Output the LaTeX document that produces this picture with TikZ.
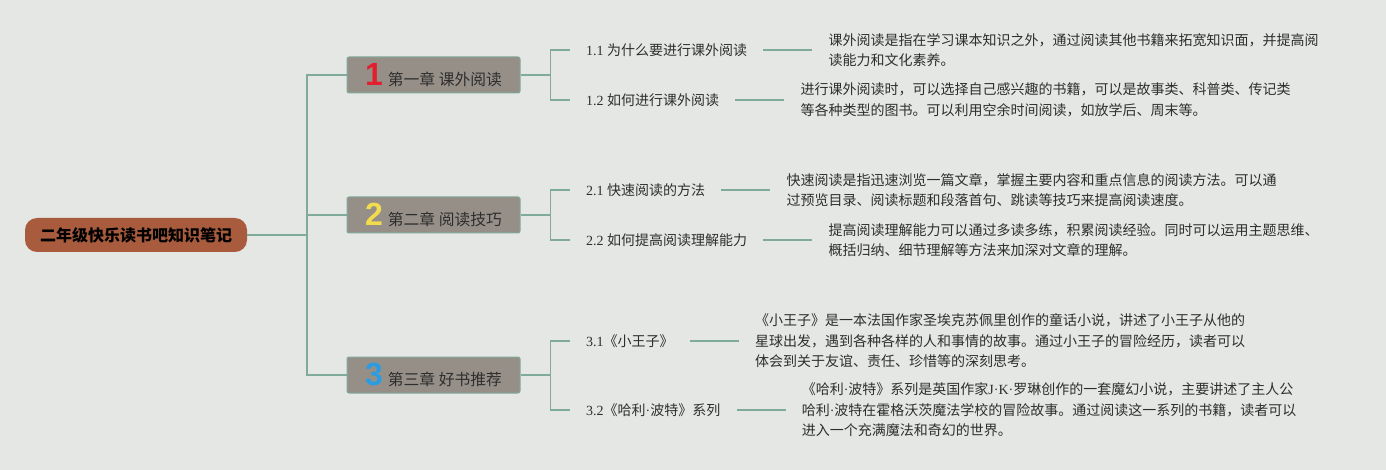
\documentclass[tikz,border=0pt]{standalone}
\usepackage{fontspec}
\setmainfont{Liberation Serif}
\newfontfamily\cjk{Noto Sans CJK SC}
\newfontfamily\numfont{Liberation Sans}
\usetikzlibrary{positioning}

\definecolor{bgcol}{HTML}{E4E7E4}
\definecolor{linkcol}{HTML}{80AB9B}
\definecolor{rootcol}{HTML}{A85B3D}
\definecolor{chapcol}{HTML}{958F87}
\definecolor{textcol}{HTML}{2E2E2E}
\definecolor{numred}{HTML}{E21F2F}
\definecolor{numyellow}{HTML}{F2DC4E}
\definecolor{numblue}{HTML}{2A9DE2}

\tikzset{
  link/.style={draw=linkcol, line width=1.5pt},
  rootbox/.style={fill=rootcol, rounded corners=12pt, minimum width=222pt,
    minimum height=34pt, inner sep=0pt, font=\cjk\bfseries\fontsize{16}{18}\selectfont},
  chapbox/.style={fill=chapcol, draw=linkcol, line width=1pt, rounded corners=2pt,
    minimum width=173pt, minimum height=36pt, inner sep=0pt, text=textcol,
    font=\cjk\fontsize{15.8}{18}\selectfont},
  sublabel/.style={anchor=west, inner xsep=16pt, inner ysep=2pt, text=textcol,
    font=\fontsize{14}{17}\selectfont},
  detail/.style={align=left, inner xsep=16pt, inner ysep=2pt, text=textcol,
    font=\cjk\fontsize{14}{20.5}\selectfont},
}
\newcommand{\chapnum}[2]{{\numfont\bfseries\fontsize{32}{32}\selectfont\textcolor{#1}{#2}}\hspace{5pt}}
% narrow middle dot
\newcommand{\mdot}{{\rmfamily ·}}

\begin{document}
\begin{tikzpicture}[x=1pt,y=-1pt]
% canvas
\fill[bgcol] (0,0) rectangle (1386,470);
\useasboundingbox (0,0) rectangle (1386,470);
% root
\node[rootbox] (root) at (136,235) {二年级快乐读书吧知识笔记};
% chapters
\node[chapbox] (ch1) at (433.5,75) {\chapnum{numred}{1}第一章 课外阅读};
\node[chapbox] (ch2) at (433.5,215) {\chapnum{numyellow}{2}第二章 阅读技巧};
\node[chapbox] (ch3) at (433.5,375) {\chapnum{numblue}{3}第三章 好书推荐};
% sub topics and notes
\node[sublabel] (s11) at (570,50) {1.1 \cjk 为什么要进行课外阅读};
\node[detail, right=49pt of s11] (d11) {课外阅读是指在学习课本知识之外，通过阅读其他书籍来拓宽知识面，并提高阅\\读能力和文化素养。};
\node[sublabel] (s12) at (570,100) {1.2 \cjk 如何进行课外阅读};
\node[detail, right=49pt of s12] (d12) {进行课外阅读时，可以选择自己感兴趣的书籍，可以是故事类、科普类、传记类\\等各种类型的图书。可以利用空余时间阅读，如放学后、周末等。};
\node[sublabel] (s21) at (570,190) {2.1 \cjk 快速阅读的方法};
\node[detail, right=49pt of s21] (d21) {快速阅读是指迅速浏览一篇文章，掌握主要内容和重点信息的阅读方法。可以通\\过预览目录、阅读标题和段落首句、跳读等技巧来提高阅读速度。};
\node[sublabel] (s22) at (570,240) {2.2 \cjk 如何提高阅读理解能力};
\node[detail, right=49pt of s22] (d22) {提高阅读理解能力可以通过多读多练，积累阅读经验。同时可以运用主题思维、\\概括归纳、细节理解等方法来加深对文章的理解。};
\node[sublabel] (s31) at (570,341) {3.1{\cjk 《小王子》}};
\node[detail, right=49pt of s31] (d31) {《小王子》是一本法国作家圣埃克苏佩里创作的童话小说，讲述了小王子从他的\\星球出发，遇到各种各样的人和事情的故事。通过小王子的冒险经历，读者可以\\体会到关于友谊、责任、珍惜等的深刻思考。};
\node[sublabel] (s32) at (570,410) {3.2{\cjk 《哈利\mdot 波特》系列}};
\node[detail, right=49pt of s32] (d32) {《哈利\mdot 波特》系列是英国作家{\rmfamily J·K·}罗琳创作的一套魔幻小说，主要讲述了主人公\\哈利\mdot 波特在霍格沃茨魔法学校的冒险故事。通过阅读这一系列的书籍，读者可以\\进入一个充满魔法和奇幻的世界。};
% connectors
\foreach \c in {ch1,ch2,ch3}
  \draw[link] (root.east) -- ++(60,0) |- (\c.west);
\foreach \c/\a/\b in {ch1/s11/s12, ch2/s21/s22, ch3/s31/s32} {
  \draw[link] (\c.east) -- ++(30,0) |- (\a.west);
  \draw[link] (\c.east) ++(30,0) |- (\b.west);
}
\foreach \s in {11,12,21,22,31,32}
  \draw[link] (s\s.east) -- (d\s.west);
\end{tikzpicture}
\end{document}
